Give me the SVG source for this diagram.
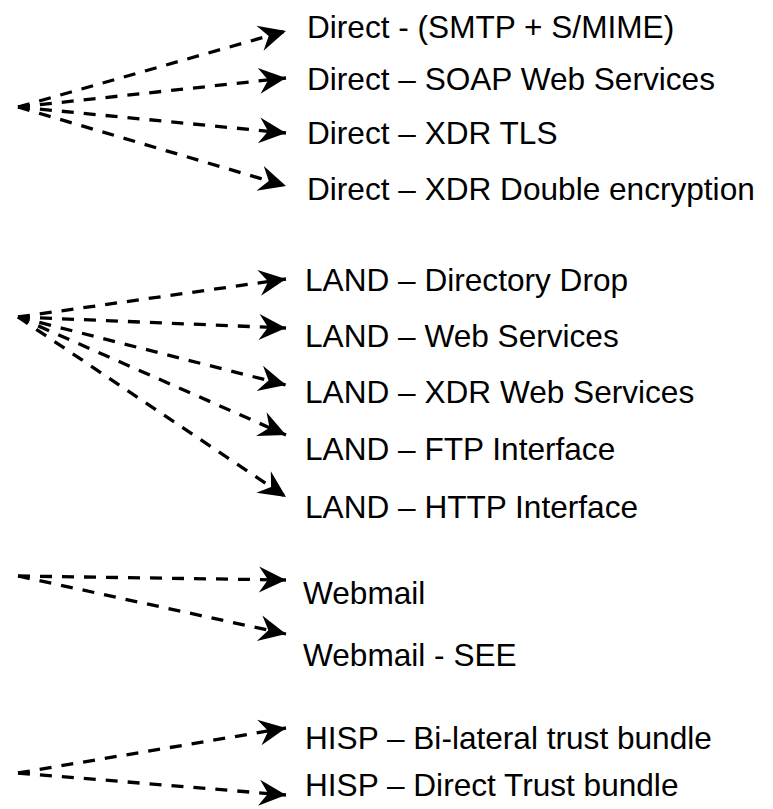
<svg xmlns="http://www.w3.org/2000/svg" width="773" height="809" viewBox="0 0 773 809">
<style>
.c{stroke:#000;stroke-width:3.3;stroke-dasharray:12 10;fill:none;marker-end:url(#ah)}
.t{font-family:"Liberation Sans",Arial,sans-serif;font-size:31.6px;fill:#000}
</style>
<defs>
<marker id="ah" markerUnits="userSpaceOnUse" viewBox="-30 -15 32 30" refX="0" refY="0" markerWidth="32" markerHeight="30" orient="auto">
<path d="M0,0 L-27,-13 L-18,0 L-27,13 Z" fill="#000"/>
</marker>
</defs>
<rect width="773" height="809" fill="#fff"/>
<g id="connectors">
<line class="c" x1="18" y1="107" x2="286" y2="31"/>
<line class="c" x1="18" y1="107" x2="286" y2="78"/>
<line class="c" x1="18" y1="107" x2="286" y2="133"/>
<line class="c" x1="18" y1="107" x2="286" y2="186"/>
<line class="c" x1="18" y1="317" x2="286" y2="279"/>
<line class="c" x1="18" y1="317" x2="286" y2="328"/>
<line class="c" x1="18" y1="317" x2="286" y2="385"/>
<line class="c" x1="18" y1="317" x2="286" y2="435"/>
<line class="c" x1="18" y1="317" x2="286" y2="497"/>
<line class="c" x1="18" y1="576" x2="286" y2="580"/>
<line class="c" x1="18" y1="576" x2="286" y2="634"/>
<line class="c" x1="18" y1="773" x2="286" y2="728"/>
<line class="c" x1="18" y1="773" x2="286" y2="795"/>
</g>
<g id="n1"><text class="t" x="307" y="38">Direct - (SMTP + S/MIME)</text></g>
<g id="n2"><text class="t" x="307" y="90">Direct – SOAP Web Services</text></g>
<g id="n3"><text class="t" x="307" y="144">Direct – XDR TLS</text></g>
<g id="n4"><text class="t" x="307" y="200">Direct – XDR Double encryption</text></g>
<g id="n5"><text class="t" x="305" y="291">LAND – Directory Drop</text></g>
<g id="n6"><text class="t" x="305" y="347">LAND – Web Services</text></g>
<g id="n7"><text class="t" x="305" y="403">LAND – XDR Web Services</text></g>
<g id="n8"><text class="t" x="305" y="460">LAND – FTP Interface</text></g>
<g id="n9"><text class="t" x="305" y="518">LAND – HTTP Interface</text></g>
<g id="n10"><text class="t" x="303" y="604">Webmail</text></g>
<g id="n11"><text class="t" x="303" y="666">Webmail - SEE</text></g>
<g id="n12"><text class="t" x="305" y="749">HISP – Bi-lateral trust bundle</text></g>
<g id="n13"><text class="t" x="305" y="796">HISP – Direct Trust bundle</text></g>
</svg>
